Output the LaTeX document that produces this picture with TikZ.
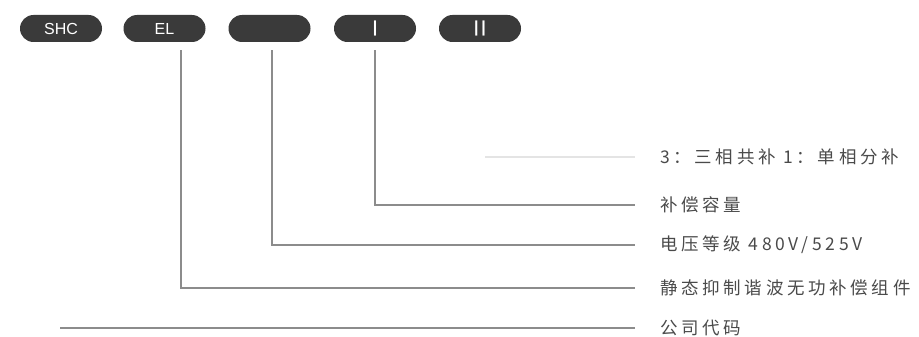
\documentclass[tikz,border=0pt]{standalone}
\usepackage{fontspec}
\setmainfont{Noto Sans CJK SC}[LetterSpace=21]
\newfontfamily\pillfont{Liberation Sans}
\usetikzlibrary{shapes.misc}
\definecolor{pillgray}{HTML}{3A3A3A}
\definecolor{linegray}{HTML}{8C8C8C}
\definecolor{faintgray}{HTML}{E4E4E4}
\definecolor{txtgray}{HTML}{4A4A4A}
\tikzset{
  pill/.style={rounded rectangle,fill=pillgray,minimum width=82pt,minimum height=27pt,inner sep=0pt,text=white,font=\pillfont\fontsize{16}{16}\selectfont},
  lbl/.style={anchor=west,inner sep=0pt,text=txtgray,font=\fontsize{17.5}{17.5}\selectfont},
  lead/.style={draw=linegray,line width=1.2pt}
}
\newcommand*{\LabelGap}{25pt}

\begin{document}
\begin{tikzpicture}[x=1pt,y=-1pt]
\useasboundingbox (0,0) rectangle (919,337);
% code pills
\node[pill] (shc) at (61,28.5) {SHC};
\node[pill] (el) at (164.5,28.5) {EL};
\node[pill] (volt) at (269.5,28.5) {};
\node[pill] (cap) at (375,28.5) {\bfseries|};
\node[pill] (phase) at (480,28.5) {\bfseries|\,|};

% labels
\node[lbl] (lphase) at (660,157) {3：三相共补 1：单相分补};
\node[lbl] (lcap) at (660,205) {补偿容量};
\node[lbl] (lvolt) at (660,245) {电压等级 480V/525V};
\node[lbl] (lel) at (660,288) {静态抑制谐波无功补偿组件};
\node[lbl] (lcode) at (660,328) {公司代码};

% leaders
\coordinate (phasestart) at (485,157);
\coordinate (codestart) at (60,328);
\draw[lead,draw=faintgray,shorten >=\LabelGap] (phasestart) -- (lphase.west);
\draw[lead,shorten <=8pt,shorten >=\LabelGap] (cap.south) |- (lcap.west);
\draw[lead,shorten <=8pt,shorten >=\LabelGap] ([xshift=2.5pt]volt.south) |- (lvolt.west);
\draw[lead,shorten <=8pt,shorten >=\LabelGap] ([xshift=16.5pt]el.south) |- (lel.west);
\draw[lead,shorten >=\LabelGap] (codestart) -- (lcode.west);
\end{tikzpicture}
\end{document}
